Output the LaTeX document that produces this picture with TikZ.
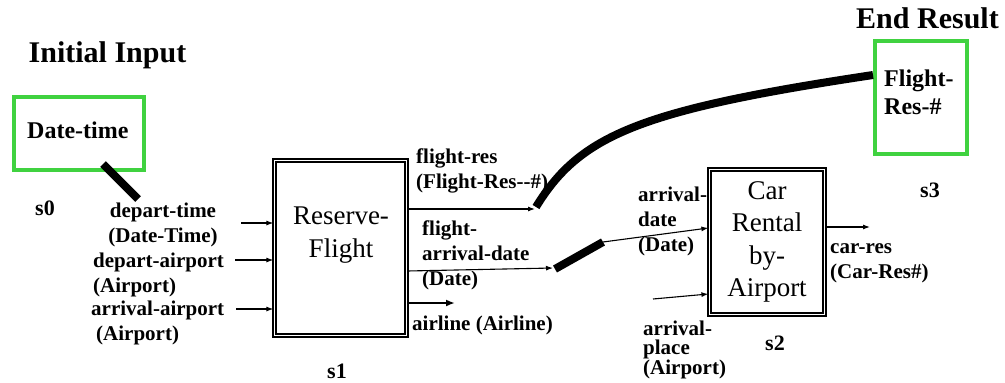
\documentclass[tikz,border=0pt]{standalone}
\usepackage{fontspec}
\setmainfont{Liberation Serif}
\usetikzlibrary{arrows.meta}

\definecolor{boxgreen}{RGB}{64,210,64}

\begin{document}
\begin{tikzpicture}[x=1pt, y=-1pt,
  lbl/.style={font=\fontsize{21}{25}\selectfont\bfseries, inner sep=0pt, align=left, anchor=west},
  title/.style={font=\fontsize{30}{36}\selectfont\bfseries, inner sep=0pt, anchor=base},
  slbl/.style={font=\fontsize{22}{26}\selectfont\bfseries, inner sep=0pt, anchor=base},
  greenbox/.style={draw=boxgreen, line width=4pt, inner sep=0pt},
  greentxt/.style={font=\fontsize{24}{28}\selectfont\bfseries, inner sep=0pt, align=left},
  svcbox/.style={draw, double, line width=1.8pt, double distance=1pt, inner sep=0pt},
  boxtxt/.style={font=\fontsize{27}{32.5}\selectfont, inner sep=0pt, align=center},
  arr/.style={-{Latex[length=7pt,width=5pt]}, line width=1.1pt},
  bigarr/.style={-{Latex[length=9pt,width=7pt]}, line width=2pt},
  thicklink/.style={line width=8pt}
]
  \useasboundingbox (0,0) rectangle (1005,383);

  % titles
  \node[title] (intitle) at (107.5,62) {Initial Input};
  \node[title] (endtitle) at (927.5,28) {End Result};

  % initial input s0
  \node[greenbox, minimum width=130, minimum height=73] (s0box) at (79,133.5) {};
  \node[greentxt, anchor=base west] (dttxt) at (27,138) {Date-time};
  \node[slbl] (s0) at (45,215) {s0};

  % Reserve-Flight s1
  \node[svcbox, minimum width=132.4, minimum height=175.4] (s1box) at (340.5,248) {};
  \node[boxtxt] (s1txt) at (341,235) {Reserve-\\Flight};
  \node[slbl] (s1) at (337,378) {s1};

  % Car Rental s2
  \node[svcbox, boxtxt, minimum width=115.4, minimum height=145.4] (s2box) at (767,242) {Car\\Rental\\by-\\Airport};
  \node[slbl] (s2) at (775,350) {s2};

  % end result s3
  \node[greenbox, minimum width=92, minimum height=113] (s3box) at (921,97.5) {};
  \node[greentxt, anchor=west] (frtxt) at (884,92.5) {Flight-\\Res-\#};
  \node[slbl] (s3) at (930,197) {s3};

  % inputs of s1
  \node[lbl, align=center, anchor=center] (dtlbl) at (163,225) {depart-time\\(Date-Time)};
  \node[lbl] (dalbl) at (93,274.5) {depart-airport\\(Airport)};
  \node[lbl] (aalbl) at (91,322.5) {arrival-airport\\\hspace*{5pt}(Airport)};
  \coordinate (in1) at (241,223);
  \coordinate (in2) at (235,260);
  \coordinate (in3) at (236,309);
  \draw[arr] (in1) -- (in1 -| s1box.west);
  \draw[arr] (in2) -- (in2 -| s1box.west);
  \draw[arr] (in3) -- (in3 -| s1box.west);

  % outputs of s1
  \node[lbl] (frlbl) at (416,170.5) {flight-res\\(Flight-Res{-}{-}\#)};
  \node[lbl] (fadlbl) at (422,255.5) {flight-\\arrival-date\\(Date)};
  \node[lbl] (allbl) at (412,325) {airline (Airline)};
  \coordinate (frtip) at (535,209);
  \coordinate (fadtip) at (553,268);
  \coordinate (altip) at (455,303);
  \draw[arr] (frtip -| s1box.east) -- (frtip);
  \draw[arr] (s1box.east |- 0,271) -- (fadtip);
  \draw[bigarr] (altip -| s1box.east) -- (altip);

  % data links
  \coordinate (s0out) at (103,164);
  \coordinate (dtin) at (138,199);
  \draw[thicklink] (s0out) -- (dtin);
  \coordinate (frstart) at (536,207);
  \coordinate (frend) at (873,75);
  \draw[thicklink] (frstart) .. controls (580,135) and (640,110) .. (frend);
  \coordinate (fadstart) at (555,269);
  \coordinate (adstart) at (603,242);
  \draw[thicklink] (fadstart) -- (adstart);

  % inputs of s2
  \node[lbl] (adlbl) at (638,221) {arrival-\\date\\(Date)};
  \node[lbl, font=\fontsize{21}{19}\selectfont\bfseries] (aplbl) at (643,350) {arrival-\\place\\(Airport)};
  \coordinate (apstart) at (653,299);
  \draw[arr] (adstart) -- (s2box.west |- 0,228);
  \draw[arr] (apstart) -- (s2box.west |- 0,294);

  % output of s2
  \node[lbl] (crlbl) at (830,263) {car-res\\(Car-Res\#)};
  \coordinate (crtip) at (870,227);
  \draw[arr] (crtip -| s2box.east) -- (crtip);
\end{tikzpicture}
\end{document}
